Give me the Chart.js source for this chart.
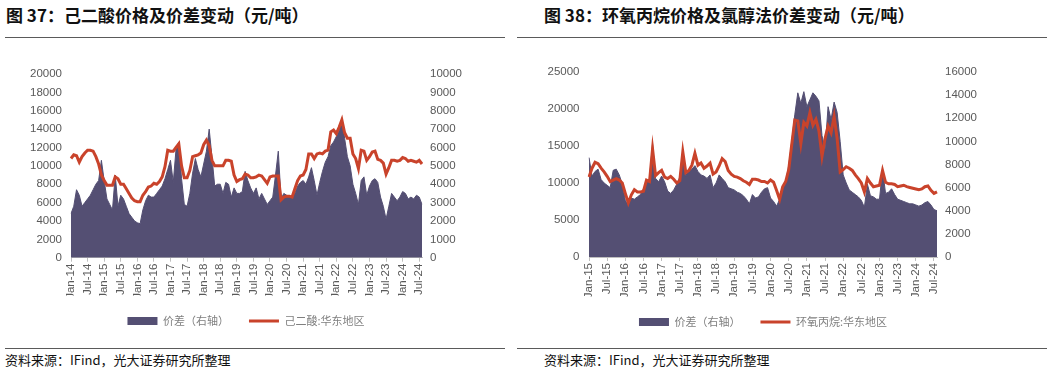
<!DOCTYPE html>
<html><head><meta charset="utf-8">
<script src="https://cdn.jsdelivr.net/npm/chart.js@4/dist/chart.umd.min.js"></script>
<style>
body{margin:0;width:1054px;height:369px;background:#fff;position:relative;overflow:hidden;font-family:"Noto Sans CJK SC",sans-serif}
.title{position:absolute;top:4px;font-size:17px;font-weight:bold;color:#111;line-height:22px;white-space:nowrap}
.rule{position:absolute;height:0;border-top:1px solid #5a5a5a}
.src{position:absolute;top:351px;font-size:13px;color:#111;line-height:18px;white-space:nowrap}
canvas{position:absolute;top:0}
</style></head><body>
<div class="title" style="left:6px">图 37：己二酸价格及价差变动（元/吨）</div>
<div class="title" style="left:544px">图 38：环氧丙烷价格及氯醇法价差变动（元/吨）</div>
<div class="rule" style="left:5px;width:500px;top:37px"></div>
<div class="rule" style="left:517px;width:530px;top:37px"></div>
<canvas id="c1" width="512" height="345" style="left:0"></canvas>
<canvas id="c2" width="537" height="345" style="left:517px"></canvas>
<div class="rule" style="left:5px;width:500px;top:348px"></div>
<div class="rule" style="left:517px;width:530px;top:348px"></div>
<div class="src" style="left:5px">资料来源：IFind，光大证券研究所整理</div>
<div class="src" style="left:544px">资料来源：IFind，光大证券研究所整理</div>
<script>
const months = ['Jan-14','Feb-14','Mar-14','Apr-14','May-14','Jun-14','Jul-14','Aug-14','Sep-14','Oct-14','Nov-14','Dec-14',
'Jan-15','Feb-15','Mar-15','Apr-15','May-15','Jun-15','Jul-15','Aug-15','Sep-15','Oct-15','Nov-15','Dec-15',
'Jan-16','Feb-16','Mar-16','Apr-16','May-16','Jun-16','Jul-16','Aug-16','Sep-16','Oct-16','Nov-16','Dec-16',
'Jan-17','Feb-17','Mar-17','Apr-17','May-17','Jun-17','Jul-17','Aug-17','Sep-17','Oct-17','Nov-17','Dec-17',
'Jan-18','Feb-18','Mar-18','Apr-18','May-18','Jun-18','Jul-18','Aug-18','Sep-18','Oct-18','Nov-18','Dec-18',
'Jan-19','Feb-19','Mar-19','Apr-19','May-19','Jun-19','Jul-19','Aug-19','Sep-19','Oct-19','Nov-19','Dec-19',
'Jan-20','Feb-20','Mar-20','Apr-20','May-20','Jun-20','Jul-20','Aug-20','Sep-20','Oct-20','Nov-20','Dec-20',
'Jan-21','Feb-21','Mar-21','Apr-21','May-21','Jun-21','Jul-21','Aug-21','Sep-21','Oct-21','Nov-21','Dec-21',
'Jan-22','Feb-22','Mar-22','Apr-22','May-22','Jun-22','Jul-22','Aug-22','Sep-22','Oct-22','Nov-22','Dec-22',
'Jan-23','Feb-23','Mar-23','Apr-23','May-23','Jun-23','Jul-23','Aug-23','Sep-23','Oct-23','Nov-23','Dec-23',
'Jan-24','Feb-24','Mar-24','Apr-24','May-24','Jun-24','Jul-24','Aug-24'];
const monthsPO = months.slice(12);

const tickLabelsAA = ['Jan-14','Jul-14','Jan-15','Jul-15','Jan-16','Jul-16','Jan-17','Jul-17','Jan-18','Jul-18','Jan-19','Jul-19','Jan-20','Jul-20','Jan-21','Jul-21','Jan-22','Jul-22','Jan-23','Jul-23','Jan-24','Jul-24'];
const tickLabelsPO = ['Jan-15','Jul-15','Jan-16','Jul-16','Jan-17','Jul-17','Jan-18','Jul-18','Jan-19','Jul-19','Jan-20','Jul-20','Jan-21','Jul-21','Jan-22','Jul-22','Jan-23','Jul-23','Jan-24','Jul-24'];

// 己二酸:华东地区 price (left axis)
const adipicPrice = [10800,11200,11100,10400,11000,11400,11700,11700,11600,11000,10200,9000,
8400,7900,7900,7900,8800,8600,8000,8000,7500,7000,6500,6200,
6100,6100,6800,7200,7700,7800,8100,8000,8300,8800,9900,11700,
11600,11600,12000,12400,10000,8700,8700,9500,11000,11100,11200,11400,
12300,12800,12200,10600,10000,10000,10000,10000,10600,10600,10500,9000,
8300,8500,8600,9100,9000,8700,8700,8800,9000,8900,8500,8100,
8800,8900,8900,8900,6300,6600,6700,6700,6600,7500,8400,8900,
9000,9600,11300,11300,10800,11300,11400,11300,11600,11700,13700,13900,
13500,14200,15000,13600,13000,13000,11300,10800,9700,11700,11600,10600,
11000,11500,11600,10700,10600,10300,9100,9800,10600,10600,10500,10600,
10900,10800,10500,10600,10500,10400,10600,10200];
// 己二酸 价差 (right axis)
const adipicSpread = [2400,2800,3700,3400,2800,3000,3200,3400,3700,4000,4200,5300,
4200,3200,2900,2600,4500,2800,3400,3200,2800,2400,2200,2000,
1900,1850,2600,3100,3400,3300,3300,3500,3700,3900,4300,4800,
5300,4100,5900,6300,4300,2900,2800,3500,4600,5400,4800,4400,
5100,5800,7000,5500,3900,4000,4000,3500,4100,4000,3300,3800,
3500,3500,3600,4700,4200,3800,3500,3800,3200,3500,3200,2900,
3100,3300,4500,5800,3200,3500,3400,3300,3400,3500,3900,4100,
4200,4000,4400,4900,4200,3400,4100,4700,5200,5500,6100,6300,
6600,6900,7600,6500,5500,5000,4000,3500,2900,4200,4400,3400,
3900,4200,4300,4100,3300,2800,2100,2800,3500,3300,3100,3300,
3600,3500,3200,3300,3200,3400,3300,2900];

// 环氧丙烷:华东地区 price (left axis)
const poPrice = [10800,12000,12800,12600,12000,11500,10900,10200,10400,10600,10400,10000,
8600,7300,8400,9100,8800,8800,8900,10400,10200,14600,11000,11400,
11700,10800,10600,10900,10500,10000,10300,14200,11400,11700,12400,14000,
12400,12700,12000,12300,12700,11200,11500,12300,13300,12900,11700,11200,
10900,10800,10600,10300,10100,9800,10500,10500,10400,10200,10200,10000,
10400,10100,9000,7800,9500,10200,11800,15200,18500,18400,15300,18200,
17700,19500,17800,18600,17000,13600,16000,17700,16800,19000,16000,11500,
11800,12200,12000,11700,11100,10600,10000,8800,10600,10000,9500,9600,
9700,11700,10100,9900,9900,9800,9500,9600,9700,9500,9400,9300,
9200,9100,9200,9500,9600,9000,8600,8800];
// 氯醇法 价差 (right axis)
const poSpread = [8600,7000,7400,7600,6700,6400,6200,6000,7500,7600,7100,6300,
4900,4500,5100,5000,5200,5400,5900,6400,6800,9800,6800,6500,
7000,6500,5700,5500,5800,6300,6900,9200,7000,7600,7600,7900,
7400,7100,7000,6800,7100,6000,6400,7100,6800,6500,6000,5900,
5800,5600,5500,5300,5000,4600,5400,5100,5200,5600,5900,6000,
5100,4800,4400,5000,5900,6500,7900,10000,12300,14200,13300,14300,
13000,13600,14200,13900,13500,10500,9300,13000,11900,13400,12500,10000,
7100,6400,5800,5600,5400,5200,4900,4300,6300,5300,5200,5000,
5000,7600,5500,5600,5900,5400,5000,4900,4800,4700,4600,4600,
4500,4400,4500,4700,4800,4500,4100,4000];

const AREA = '#544F73', RED = '#C9432B', TICK = '#595959', AXIS = '#BFBFBF';
const NUMFONT = {family:'"Liberation Sans", Arial, sans-serif', size:11.5};
const plain = (v) => String(v);

function build(id, labels, ticksShown, spread, price, priceLabel, g) {
  new Chart(document.getElementById(id), {
    type: 'line',
    data: {
      labels: labels,
      datasets: [
        {label:'价差（右轴）', data: spread, yAxisID:'y1', fill:'origin', backgroundColor:AREA,
         borderColor:AREA, borderWidth:1, pointRadius:0, tension:0, order:2},
        {label: priceLabel, data: price, yAxisID:'y', fill:false, borderColor:RED,
         backgroundColor:RED, borderWidth:3, pointRadius:0, tension:0, order:1}
      ]
    },
    options: {
      responsive:false, animation:false,
      layout:{padding:{left:0, right:g.padR, top:g.top, bottom:g.padB}},
      plugins:{
        tooltip:{enabled:false},
        legend:{position:'bottom', labels:{
          usePointStyle:true, pointStyleWidth:30, boxHeight:8, padding:20,
          color:'#7F7F7F', font:{family:'"Noto Sans CJK SC", sans-serif', size:11},
          generateLabels: (chart) => chart.data.datasets.map((ds, i) => ({
            text: ds.label, datasetIndex: i, hidden:false,
            fillStyle: i === 0 ? AREA : RED, strokeStyle: i === 0 ? AREA : RED,
            lineWidth: i === 0 ? 0 : 3, pointStyle: i === 0 ? 'rect' : 'line', fontColor:'#7F7F7F'
          }))
        }}
      },
      scales:{
        x:{type:'category', offset:false,
          grid:{display:true, drawOnChartArea:false, drawTicks:true, tickLength:4, color:AXIS},
          border:{display:true, color:AXIS, width:1},
          ticks:{autoSkip:false, minRotation:90, maxRotation:90, padding:2, color:TICK, font:NUMFONT,
            callback:function(v){ const l = this.getLabelForValue(v); return ticksShown.includes(l) ? l : null; }},
          afterFit:(s)=>{ s.height = g.xH; }
        },
        y:{position:'left', min:0, max:g.yMax, 
          ticks:{stepSize:g.yStep, padding:g.lPad, color:TICK, font:NUMFONT, callback:plain},
          grid:{display:false, drawTicks:false}, border:{display:false},
          afterFit:(s)=>{ s.width = g.yW; }
        },
        y1:{position:'right', min:0, max:g.y1Max,
          ticks:{stepSize:g.y1Step, padding:g.rPad, color:TICK, font:NUMFONT, callback:plain},
          grid:{display:false, drawTicks:false}, border:{display:false},
          afterFit:(s)=>{ s.width = g.y1W; }
        }
      }
    }
  });
}

build('c1', months, tickLabelsAA, adipicSpread, adipicPrice, '己二酸:华东地区',
  {padR:20, top:74, padB:8.5, xH:37.8, yMax:20000, yStep:2000, y1Max:10000, y1Step:1000, yW:71, y1W:70, lPad:9, rPad:8});
build('c2', monthsPO, tickLabelsPO, poSpread, poPrice, '环氧丙烷:华东地区',
  {padR:45, top:72, padB:7.5, xH:39.5, yMax:25000, yStep:5000, y1Max:16000, y1Step:2000, yW:72, y1W:72, lPad:9.5, rPad:8});
</script>
</body></html>
